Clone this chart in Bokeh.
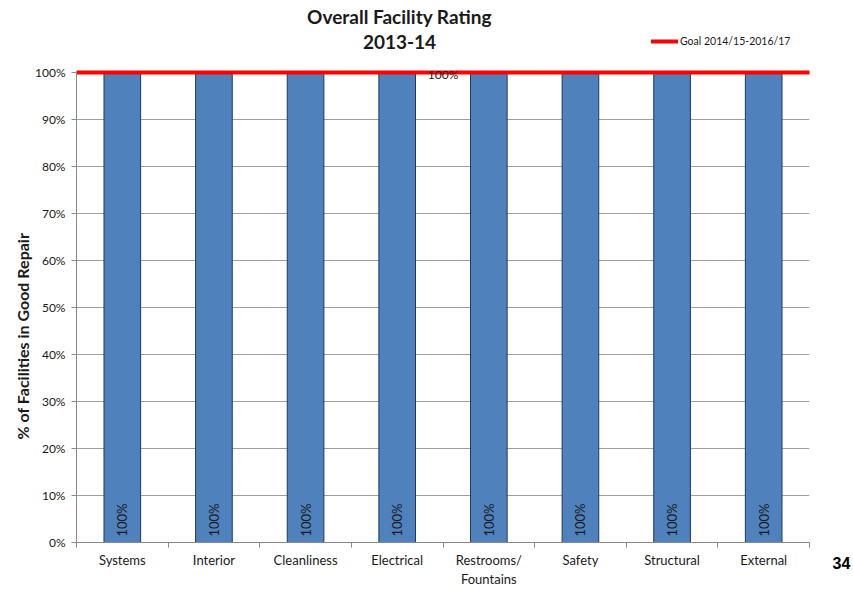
import math
from bokeh.plotting import figure
from bokeh.models import (Range1d, FixedTicker, PrintfTickFormatter, ColumnDataSource,
                          Label, Legend, LegendItem, LinearAxis, Title)
from bokeh.core.properties import value
from bokeh.embed import file_html
from bokeh.resources import INLINE

# ---- data ----
categories = ["Systems", "Interior", "Cleanliness", "Electrical",
              "Restrooms/\nFountains", "Safety", "Structural", "External"]
pct_good_repair = [100, 100, 100, 100, 100, 100, 100, 100]
bar_labels = ["100%", "100%", "100%", "100%", "100%", "100%", "100%", "100%"]
goal_name = "Goal 2014/15-2016/17"
goal_value = 100
goal_label = "100%"
y_ticks = [0, 10, 20, 30, 40, 50, 60, 70, 80, 90, 100]
title_lines = ["Overall Facility Rating", "2013-14"]
y_title = "% of Facilities in Good Repair"
page_number = "34"

FONT = "Lato"
TXT = "#1a1a1a"
n = len(categories)
centers = [i + 0.5 for i in range(n)]
edges = [float(i) for i in range(n + 1)]

# frame reaches the top of the canvas so that titles/legend sit inside it
p = figure(width=853, height=589, output_backend="svg", toolbar_location=None,
           x_range=Range1d(0, n), y_range=Range1d(0, 115.3),
           min_border_left=76, min_border_right=42, min_border_top=0,
           min_border_bottom=46)
p.outline_line_color = None
p.background_fill_color = "white"
p.border_fill_color = "white"

src = ColumnDataSource(dict(x=centers, top=pct_good_repair, lab=bar_labels,
                            zero=[0] * n))
p.vbar(x="x", top="top", bottom=0, width=0.4, source=src,
       fill_color="#4F81BD", line_color="#1E3A5F", line_width=1)

p.text(x="x", y="zero", text="lab", source=src, angle=math.pi / 2,
       text_align="left", text_baseline="middle", y_offset=-6,
       text_font=value(FONT), text_font_size="13px", text_color=TXT)

gsrc = ColumnDataSource(dict(x=[edges[0], edges[-1]], y=[goal_value, goal_value]))
gline = p.line(x="x", y="y", source=gsrc, line_color="#FF0000", line_width=4,
               line_cap="round")
p.text(x=[edges[n // 2]], y=[goal_value], text=[goal_label], text_align="center",
       text_baseline="middle", y_offset=2, text_font=value(FONT),
       text_font_size="12px", text_color=TXT)

legend = Legend(items=[LegendItem(label=goal_name, renderers=[gline])],
                location=(575, 494), padding=0, margin=0, spacing=0,
                glyph_width=27, glyph_height=14, label_standoff=2,
                label_text_font=FONT, label_text_font_size="10.5px",
                label_text_color=TXT, border_line_color=None,
                background_fill_alpha=0)
p.add_layout(legend, "center")

# x axis
p.xaxis.ticker = FixedTicker(ticks=centers, minor_ticks=edges)
p.xaxis.major_label_overrides = {c: lab for c, lab in zip(centers, categories)}
p.xaxis.major_tick_line_color = None
p.xaxis.major_tick_out = 0
p.xaxis.minor_tick_out = 5
p.xaxis.minor_tick_in = 0
p.xaxis.minor_tick_line_color = "#888888"
p.xaxis.axis_line_color = "#888888"
p.xaxis.major_label_text_font = FONT
p.xaxis.major_label_text_font_size = "13px"
p.xaxis.major_label_text_color = TXT
p.xaxis.major_label_standoff = 4

# y axis
p.yaxis.ticker = FixedTicker(ticks=y_ticks)
p.yaxis.bounds = (y_ticks[0], y_ticks[-1])
p.yaxis.formatter = PrintfTickFormatter(format="%d%%")
p.yaxis.major_tick_out = 5
p.yaxis.major_tick_in = 0
p.yaxis.minor_tick_line_color = None
p.yaxis.major_tick_line_color = "#888888"
p.yaxis.axis_line_color = "#888888"
p.yaxis.major_label_text_font = FONT
p.yaxis.major_label_text_font_size = "12px"
p.yaxis.major_label_text_color = TXT
p.yaxis.major_label_standoff = 6

p.xgrid.grid_line_color = None
p.ygrid.grid_line_color = "#A0A0A0"
p.ygrid.grid_line_width = 1

# y axis title in the left panel
p.add_layout(Title(text=y_title, align="left", offset=103, text_font=FONT,
                   text_font_size="16px", text_font_style="bold",
                   text_color=TXT, standoff=2), "left")

# page number via a right-hand axis label (third line of a centred block)
p.extra_y_ranges = {"page": Range1d(0, 1)}
pax = LinearAxis(y_range_name="page", ticker=FixedTicker(ticks=[0]),
                 major_label_overrides={0: "\n\n" + page_number},
                 axis_line_color=None, major_tick_line_color=None,
                 minor_tick_line_color=None, major_label_standoff=17,
                 major_label_text_font="Liberation Sans",
                 major_label_text_font_size="16px",
                 major_label_text_font_style="bold",
                 major_label_text_color="#000000",
                 major_label_text_line_height=1.25)
p.add_layout(pax, "right")

# chart titles (screen units: from frame left / frame bottom)
for txt, yy in zip(title_lines, [526, 501]):
    p.add_layout(Label(x=323, y=yy, x_units="screen", y_units="screen", text=txt,
                       text_align="center", text_baseline="middle",
                       text_font=FONT, text_font_size="19px",
                       text_font_style="bold", text_color=TXT))

open("out.html", "w").write(file_html(p, INLINE))
